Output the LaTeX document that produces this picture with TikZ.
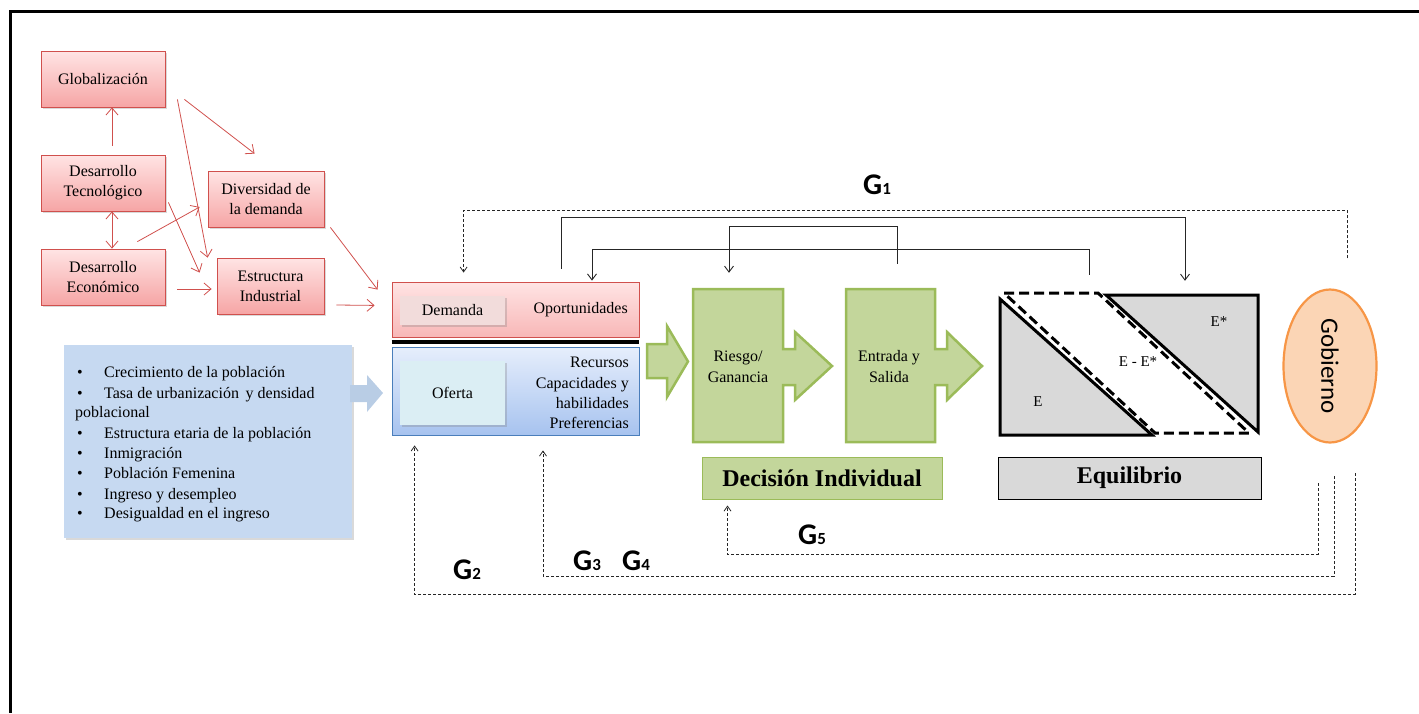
\documentclass[tikz,border=0pt]{standalone}
\usepackage{fontspec}
\setmainfont{Liberation Serif}
\newfontfamily\calib{Carlito}
\usetikzlibrary{arrows.meta,shadows,calc,shapes.geometric}

\definecolor{redfillA}{HTML}{FFE4E4}
\definecolor{redfillB}{HTML}{F6A5A5}
\definecolor{redline}{HTML}{D0504D}
\definecolor{bluelist}{HTML}{C6D9F1}
\definecolor{blueline}{HTML}{4A7EBB}
\definecolor{bluetop}{HTML}{E6EEFC}
\definecolor{bluebot}{HTML}{A7C3EF}
\definecolor{innerblue}{HTML}{DBEEF4}
\definecolor{innerred}{HTML}{F2DCDB}
\definecolor{greenfill}{HTML}{C3D69B}
\definecolor{greenline}{HTML}{9BBB59}
\definecolor{grayfill}{HTML}{D9D9D9}
\definecolor{orangefill}{HTML}{FBD5B5}
\definecolor{orangeline}{HTML}{F79646}
\definecolor{arrowblue}{HTML}{B9CDE5}

\tikzset{
  txt/.style={font=\fontsize{16}{20}\selectfont, align=center, inner sep=0pt},
  shad/.style={drop shadow={opacity=0.3,shadow xshift=2pt,shadow yshift=-2pt}},
  redbox/.style={draw=redline, line width=0.8pt, top color=redfillA, bottom color=redfillB,
     minimum height=56pt, font=\fontsize{16}{20}\selectfont, align=center, shad},
  redarr/.style={draw=redline, line width=0.8pt, -{Straight Barb[length=7pt,width=12pt]}},
  greenshape/.style={fill=greenfill, draw=greenline, line width=2.5pt, line join=miter},
  tri/.style={fill=grayfill, draw=black, line width=3pt, line join=miter},
  solarr/.style={draw=black!85, line width=0.9pt, -{Straight Barb[length=6pt,width=9pt]}},
  dsharr/.style={draw=black!85, line width=0.8pt, dash pattern=on 3pt off 2pt, -{Straight Barb[length=5pt,width=7pt]}},
  glabel/.style={font=\calib\bfseries\fontsize{30}{30}\selectfont, inner sep=0pt},
  listline/.style={font=\fontsize{16}{20}\selectfont, inner sep=0pt, anchor=base west},
  ghost/.style={draw=none, inner sep=0pt}
}
\newcommand\gsub[1]{{\fontsize{17}{17}\selectfont #1}}

\begin{document}
\begin{tikzpicture}[x=1pt,y=-1pt]
\useasboundingbox (0,0) rectangle (1419,713);
% frame
\draw[line width=3pt] (1419,11) -- (10,11) -- (10,713);

% red boxes
\node[redbox, minimum width=124pt] (glob) at (103,79) {Globalización};
\node[redbox, minimum width=124pt] (tec) at (103,183) {Desarrollo\\Tecnológico};
\node[redbox, minimum width=124pt] (eco) at (103,277) {Desarrollo\\Económico};
\node[redbox, minimum width=116pt] (div) at (266,199) {Diversidad de\\la demanda};
\node[redbox, minimum width=107pt] (est) at (270.5,286) {Estructura\\Industrial};

% blue list box
\node[fill=bluelist, minimum width=288pt, minimum height=193pt, shad] (lst) at (208,441.5) {};
\node[listline] (b1) at (77,377) {•};
\node[listline] (l1) at (104,377) {Crecimiento de la población};
\node[listline] (b2) at (77,398) {•};
\node[listline] (l2) at (104,398) {Tasa de urbanización\, y densidad};
\node[listline] (l3) at (75,417) {poblacional};
\node[listline] (b4) at (77,438) {•};
\node[listline] (l4) at (104,438) {Estructura etaria de la población};
\node[listline] (b5) at (77,458) {•};
\node[listline] (l5) at (104,458) {Inmigración};
\node[listline] (b6) at (77,478) {•};
\node[listline] (l6) at (104,478) {Población Femenina};
\node[listline] (b7) at (77,499) {•};
\node[listline] (l7) at (104,499) {Ingreso y desempleo};
\node[listline] (b8) at (77,518) {•};
\node[listline] (l8) at (104,518) {Desigualdad en el ingreso};

% demand / supply
\node[draw=redline, line width=0.8pt, top color=redfillA, bottom color=redfillB!80!white,
      minimum width=247pt, minimum height=55pt] (dem) at (515.5,309.5) {};
\node[fill=innerred, minimum width=105pt, minimum height=29pt, shad, txt] (demi) at (452.5,310.5) {Demanda};
\node[txt, anchor=east] (opo) at (628,310) {Oportunidades};
\draw[line width=4pt] ([yshift=-5pt]dem.south west) -- ([yshift=-5pt]dem.south east);
\node[draw=blueline, line width=0.8pt, top color=bluetop, bottom color=bluebot,
      minimum width=247pt, minimum height=88pt] (of) at (515.5,391) {};
\node[fill=innerblue, minimum width=105pt, minimum height=64pt, shad, txt] (ofi) at (452.5,393) {Oferta};
\node[txt, anchor=east, align=right, font=\fontsize{16}{20.3}\selectfont] (rec) at (629,393) {Recursos\\Capacidades y\\habilidades\\Preferencias};

% blue block arrow
\fill[arrowblue] (350,385) -- (367,385) -- (367,375) -- (383,393) -- (367,412) -- (367,402) -- (350,402) -- cycle;

% green arrows
\draw[greenshape] (647,344) -- (667,344) -- (667,326) -- (688,361.5) -- (667,397) -- (667,378) -- (647,378) -- cycle;
\draw[greenshape] (693,289) -- (783,289) -- (783,349) -- (795,349) -- (795,332) -- (832,366) -- (795,400) -- (795,385) -- (783,385) -- (783,442) -- (693,442) -- cycle;
\draw[greenshape] (846,289) -- (935,289) -- (935,349) -- (947,349) -- (947,332) -- (982,366) -- (947,400) -- (947,385) -- (935,385) -- (935,442) -- (846,442) -- cycle;
\node[ghost, minimum width=90pt, minimum height=153pt] (rg) at (738,365.5) {};
\node[ghost, minimum width=89pt, minimum height=153pt] (es) at (890.5,365.5) {};
\node[txt, font=\fontsize{16}{21}\selectfont] (rgt) at (738,367) {Riesgo/\\Ganancia};
\node[txt, font=\fontsize{16}{21}\selectfont] (est2) at (889,367) {Entrada y\\Salida};
\node[fill=greenfill, draw=greenline, line width=1pt, minimum width=240pt, minimum height=42pt,
      font=\bfseries\fontsize{24}{28}\selectfont] (dec) at (822,478) {Decisión Individual};

% equilibrium
\draw[tri] (1000,299) -- (1000,435) -- (1152,435) -- cycle;
\draw[tri] (1106,295) -- (1258,295) -- (1258,432) -- cycle;
\draw[line width=3pt, dash pattern=on 10pt off 5pt, line join=miter] (1004,293) -- (1098,293) -- (1249,433) -- (1155,433) -- cycle;
\node[ghost, minimum width=258pt, minimum height=142pt] (eqr) at (1129,364) {};
\node[txt, font=\fontsize{15}{18}\selectfont] (le) at (1038,402) {E};
\node[txt, font=\fontsize{15}{18}\selectfont] (les) at (1219,322) {E*};
\node[txt, font=\fontsize{15}{18}\selectfont] (led) at (1138,362) {E - E*};
\node[fill=grayfill, draw=black, line width=1pt, minimum width=263pt, minimum height=42pt,
      font=\bfseries\fontsize{24}{28}\selectfont] (eq) at (1129.5,478) {Equilibrio};

% government
\node[ellipse, fill=orangefill, draw=orangeline, line width=2.2pt, minimum width=93pt, minimum height=153pt, inner sep=0pt] (gob) at (1330,366) {};
\node[font=\calib\fontsize{25}{25}\selectfont, rotate=-90, inner sep=0pt] (gobt) at (1330,366) {Gobierno};

% red arrows
\draw[redarr] ([xshift=9pt,yshift=9pt]tec.north) -- ([xshift=9pt]glob.south);
\draw[draw=redline, line width=0.8pt, {Straight Barb[length=7pt,width=12pt]}-{Straight Barb[length=7pt,width=12pt]}] ([xshift=9pt]tec.south) -- ([xshift=9pt]eco.north);
\draw[redarr] ([shift={(19pt,8pt)}]glob.south east) -- ([shift={(47pt,17pt)}]div.north west);
\draw[redarr] ([shift={(12pt,8pt)}]glob.south east) -- ([shift={(-9pt,0pt)}]est.north west);
\draw[redarr] ([shift={(3pt,9pt)}]tec.south east) -- ([shift={(-17pt,-15pt)}]est.north west);
\draw[redarr] ([shift={(-28pt,7pt)}]eco.north east) -- ([shift={(-8pt,-8pt)}]div.west);
\draw[redarr] ([shift={(12pt,-12pt)}]eco.east) -- ([shift={(-5pt,-3pt)}]est.west);
\draw[redarr] ([shift={(6pt,0pt)}]div.south east) -- ([shift={(-14pt,-8pt)}]dem.north west);
\draw[redarr] ([shift={(12pt,-19pt)}]est.east) -- ([shift={(-17pt,32pt)}]dem.south west);

% solid feedback connectors
\draw[solarr] ([shift={(45.5pt,13pt)}]dem.north) -- ++(0,-51) -| ([shift={(56pt,12pt)}]eqr.north);
\draw[solarr] ([shift={(6.5pt,25pt)}]es.north) -- ++(0,-37) -| ([shift={(-9pt,16pt)}]rg.north);
\draw[solarr] ([shift={(-40pt,18pt)}]eqr.north) -- ++(0,-25) -| ([shift={(76.5pt,1pt)}]dem.north);

% dashed government connectors
\draw[dsharr] ([shift={(17pt,30pt)}]gob.north) -- ++(0,-48) -| ([shift={(72pt,9pt)}]dem.north west);
\draw[dsharr] ([shift={(25pt,-29.5pt)}]gob.south) -- ++(0,121) -| ([shift={(23pt,-10pt)}]of.south west);
\draw[dsharr] ([shift={(4pt,-32.5pt)}]gob.south) -- ++(0,100) -| ([shift={(27.5pt,-15pt)}]of.south);
\draw[dsharr] ([shift={(-12pt,-39.5pt)}]gob.south) -- ++(0,71) -| ([shift={(26pt,-6pt)}]dec.south west);

% G labels
\node[glabel] (g1) at (877,185) {G\gsub{1}};
\node[glabel] (g2) at (467,570) {G\gsub{2}};
\node[glabel] (g3) at (587,561) {G\gsub{3}};
\node[glabel] (g4) at (636,561) {G\gsub{4}};
\node[glabel] (g5) at (812,535) {G\gsub{5}};
\end{tikzpicture}
\end{document}
